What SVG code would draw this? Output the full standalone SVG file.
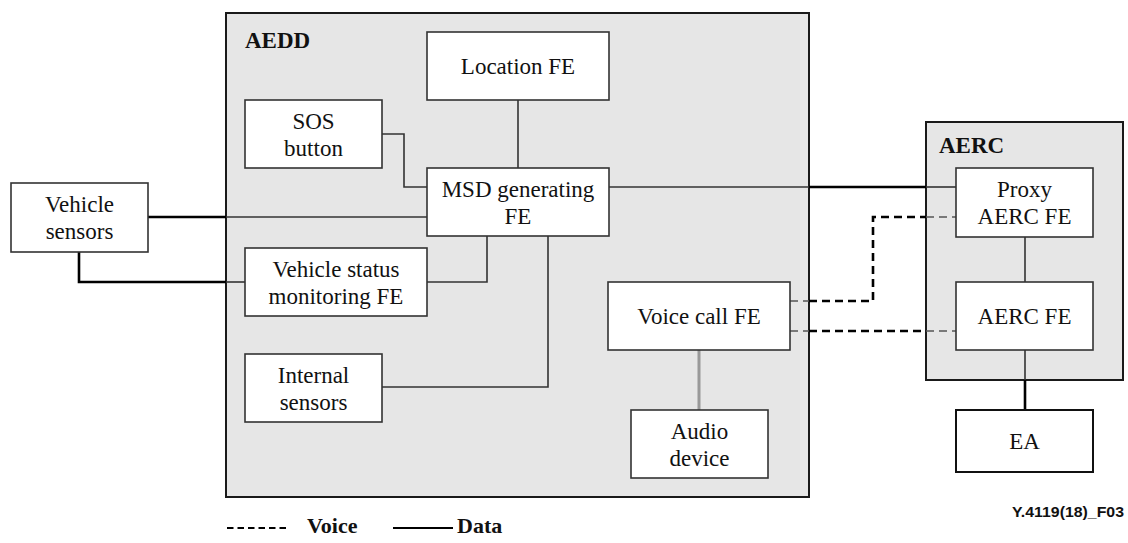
<svg xmlns="http://www.w3.org/2000/svg" width="1128" height="543" viewBox="0 0 1128 543">
<defs>
<style>
.bg{fill:#fff}
.cont{fill:#e6e6e6;stroke:#1a1a1a;stroke-width:2}
.node{fill:#fff;stroke:#333;stroke-width:1.6}
.t{font-family:"Liberation Serif","Times New Roman",serif;font-size:23px;fill:#111;text-anchor:middle}
.b{font-family:"Liberation Serif","Times New Roman",serif;font-size:23px;font-weight:bold;fill:#111}
.thin{fill:none;stroke:#333;stroke-width:1.6}
.thick{fill:none;stroke:#000;stroke-width:2.6}
.gray{fill:none;stroke:#999;stroke-width:3}
.dthin{fill:none;stroke:#555;stroke-width:1.6;stroke-dasharray:8,5}
.dthick{fill:none;stroke:#000;stroke-width:2.6;stroke-dasharray:8,5}
</style>
</defs>
<rect class="bg" x="0" y="0" width="1128" height="543"/>
<g id="AEDD">
<rect class="cont" x="226" y="13" width="583" height="484"/>
<text class="b" x="245" y="48">AEDD</text>
</g>
<g id="AERC">
<rect class="cont" x="926" y="122" width="197" height="258"/>
<text class="b" x="939" y="153">AERC</text>
</g>
<g id="connectors">
<path class="thin" d="M518,100 V168"/>
<path class="thin" d="M382,134 H404 V187 H427"/>
<path class="thick" d="M148,217 H226"/>
<path class="thin" d="M226,217 H427"/>
<path class="thick" d="M79,252 V282 H226"/>
<path class="thin" d="M226,282 H245"/>
<path class="thin" d="M427,282 H487 V236"/>
<path class="thin" d="M382,387 H548 V236"/>
<path class="thin" d="M609,187 H809"/>
<path class="thick" d="M809,187 H926"/>
<path class="thin" d="M926,187 H956"/>
<path class="dthin" d="M790,301 H809"/>
<path class="dthick" d="M809,301 H873 V217 H926"/>
<path class="dthin" d="M926,217 H956"/>
<path class="dthin" d="M790,331 H809"/>
<path class="dthick" d="M809,331 H926"/>
<path class="dthin" d="M926,331 H956"/>
<path class="gray" d="M699,350 V410"/>
<path class="thin" d="M1025,237 V282"/>
<path class="thin" d="M1025,350 V380"/>
<path class="thick" d="M1025,380 V410"/>
</g>
<g id="location-fe">
<rect class="node" x="427" y="32" width="182" height="68"/>
<text class="t" x="518" y="74">Location FE</text>
</g>
<g id="sos-button">
<rect class="node" x="245" y="100" width="137" height="68"/>
<text class="t" x="313.5" y="128.5">SOS</text>
<text class="t" x="313.5" y="155.5">button</text>
</g>
<g id="msd-fe">
<rect class="node" x="427" y="168" width="182" height="68"/>
<text class="t" x="518" y="196.5">MSD generating</text>
<text class="t" x="518" y="223.5">FE</text>
</g>
<g id="vehicle-sensors">
<rect class="node" x="11" y="183" width="137" height="69"/>
<text class="t" x="79.5" y="212">Vehicle</text>
<text class="t" x="79.5" y="239">sensors</text>
</g>
<g id="vsm-fe">
<rect class="node" x="245" y="248" width="182" height="68"/>
<text class="t" x="336" y="276.5">Vehicle status</text>
<text class="t" x="336" y="303.5">monitoring FE</text>
</g>
<g id="internal-sensors">
<rect class="node" x="245" y="354" width="137" height="68"/>
<text class="t" x="313.5" y="382.5">Internal</text>
<text class="t" x="313.5" y="409.5">sensors</text>
</g>
<g id="voice-call-fe">
<rect class="node" x="608" y="282" width="182" height="68"/>
<text class="t" x="699" y="324">Voice call FE</text>
</g>
<g id="audio-device">
<rect class="node" x="631" y="410" width="137" height="68"/>
<text class="t" x="699.5" y="438.5">Audio</text>
<text class="t" x="699.5" y="465.5">device</text>
</g>
<g id="proxy-aerc-fe">
<rect class="node" x="956" y="168" width="137" height="69"/>
<text class="t" x="1024.5" y="197">Proxy</text>
<text class="t" x="1024.5" y="224">AERC FE</text>
</g>
<g id="aerc-fe">
<rect class="node" x="956" y="282" width="137" height="68"/>
<text class="t" x="1024.5" y="324">AERC FE</text>
</g>
<g id="ea">
<rect class="node" x="956" y="410" width="137" height="62" style="stroke:#111;stroke-width:2"/>
<text class="t" x="1024.5" y="449">EA</text>
</g>
<g id="legend">
<path class="dthick" d="M227,528 H290" style="stroke-dasharray:6.5,4;stroke-width:2"/>
<text class="b" x="307" y="533" style="font-size:22px">Voice</text>
<path class="thick" d="M393,528 H453" style="stroke-width:2"/>
<text class="b" x="457" y="533" style="font-size:22px">Data</text>
</g>
<text x="1124" y="517" text-anchor="end" textLength="112" lengthAdjust="spacingAndGlyphs" style="font-family:'Liberation Sans',Arial,sans-serif;font-size:14px;font-weight:bold;fill:#111">Y.4119(18)_F03</text>
</svg>
